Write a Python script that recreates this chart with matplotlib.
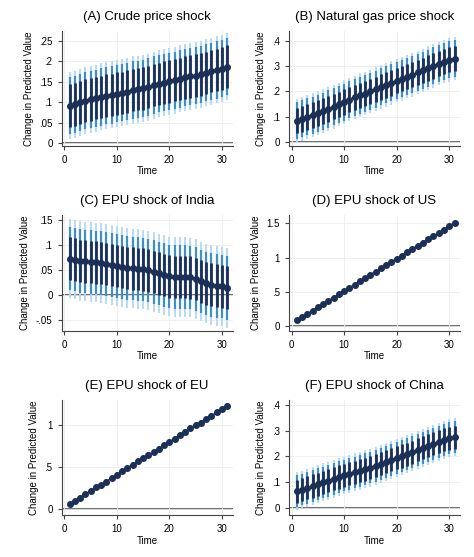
import numpy as np
import matplotlib
matplotlib.use("Agg")
from matplotlib import pyplot as plt

plt.rcParams['font.family'] = ['Liberation Sans', 'DejaVu Sans']

time = list(range(1, 32))

titles = ["(A) Crude price shock", "(B) Natural gas price shock",
          "(C) EPU shock of India", "(D) EPU shock of US",
          "(E) EPU shock of EU", "(F) EPU shock of China"]

crude = [0.092, 0.095, 0.100, 0.104, 0.107, 0.110, 0.113, 0.116, 0.118, 0.121, 0.123,
         0.126, 0.130, 0.132, 0.134, 0.137, 0.142, 0.145, 0.148, 0.151, 0.154, 0.157,
         0.161, 0.163, 0.165, 0.168, 0.172, 0.176, 0.179, 0.182, 0.187]
gas = [0.085, 0.092, 0.100, 0.107, 0.115, 0.123, 0.131, 0.140, 0.149, 0.158, 0.168,
       0.177, 0.185, 0.192, 0.200, 0.209, 0.218, 0.226, 0.234, 0.243, 0.250, 0.259,
       0.266, 0.275, 0.283, 0.292, 0.301, 0.310, 0.318, 0.325, 0.330]
india = [0.073, 0.071, 0.068, 0.067, 0.066, 0.065, 0.064, 0.062, 0.060, 0.058, 0.056,
         0.054, 0.053, 0.052, 0.051, 0.049, 0.046, 0.043, 0.040, 0.037, 0.036, 0.036,
         0.036, 0.035, 0.032, 0.027, 0.023, 0.020, 0.018, 0.017, 0.014]
us = [0.08, 0.13, 0.18, 0.22, 0.27, 0.32, 0.37, 0.41, 0.46, 0.51, 0.56, 0.60, 0.65,
      0.70, 0.75, 0.79, 0.84, 0.89, 0.94, 0.98, 1.03, 1.08, 1.13, 1.17, 1.22, 1.27,
      1.32, 1.36, 1.41, 1.46, 1.51]
eu = [0.06, 0.10, 0.14, 0.18, 0.22, 0.26, 0.29, 0.33, 0.37, 0.41, 0.45, 0.49, 0.53,
      0.57, 0.61, 0.65, 0.68, 0.72, 0.76, 0.80, 0.84, 0.88, 0.92, 0.96, 1.00, 1.03,
      1.07, 1.11, 1.15, 1.19, 1.23]
china = [0.063, 0.070, 0.077, 0.084, 0.091, 0.098, 0.105, 0.112, 0.119, 0.125, 0.131,
         0.137, 0.143, 0.149, 0.156, 0.163, 0.170, 0.178, 0.186, 0.194, 0.201, 0.208,
         0.216, 0.225, 0.233, 0.241, 0.249, 0.256, 0.264, 0.270, 0.274]
series = [crude, gas, india, us, eu, china]

# half widths of the three confidence bands (inner, middle, outer)
half_widths = [[0.052, 0.070, 0.082], [0.050, 0.073, 0.086], [0.043, 0.064, 0.080],
               [0.018, 0.028, 0.036], [0.018, 0.028, 0.036], [0.045, 0.062, 0.074]]

yticks = [[0, 0.05, 0.1, 0.15, 0.2, 0.25], [0, 0.1, 0.2, 0.3, 0.4],
          [-0.05, 0, 0.05, 0.1, 0.15], [0, 0.5, 1, 1.5], [0, 0.5, 1], [0, 0.1, 0.2, 0.3, 0.4]]
yticklabels = [["0", ".05", ".1", ".15", ".2", ".25"], ["0", ".1", ".2", ".3", ".4"],
               ["-.05", "0", ".05", ".1", ".15"], ["0", ".5", "1", "1.5"],
               ["0", ".5", "1"], ["0", ".1", ".2", ".3", ".4"]]
ylims = [(-0.007, 0.275), (-0.015, 0.44), (-0.072, 0.16), (-0.07, 1.62), (-0.07, 1.3), (-0.03, 0.42)]

dark = "#1b2f57"
mid = "#3d8fc6"
light = "#b3d9f2"

fig, axes = plt.subplots(3, 2, figsize=(4.74, 5.57), dpi=100)
for ax, title, y, hw, yt, ytl, yl in zip(axes.flat, titles, series, half_widths, yticks, yticklabels, ylims):
    y = np.array(y)
    ax.vlines(time, y - hw[2], y + hw[2], color=light, lw=1.3)
    ax.vlines(time, y - hw[1], y + hw[1], color=mid, lw=1.6)
    ax.vlines(time, y - hw[0], y + hw[0], color=dark, lw=2.0)
    ax.plot(time, y, color=dark, lw=1.2, marker="o", ms=4)
    ax.axhline(0, color="#555555", lw=1.2, zorder=0)
    ax.set_title(title, fontsize=9.5, pad=8)
    ax.set_xlim(-0.5, 32)
    ax.set_xticks([0, 10, 20, 30])
    ax.set_ylim(*yl)
    ax.set_yticks(yt)
    ax.set_yticklabels(ytl)
    ax.grid(color="#ececec", lw=0.6)
    ax.set_axisbelow(True)
    ax.set_xlabel("Time", fontsize=7, labelpad=1)
    ax.set_ylabel("Change in Predicted Value", fontsize=7)
    ax.tick_params(labelsize=7, length=3, color="#444444")
    for s in ["top", "right"]:
        ax.spines[s].set_visible(False)
    for s in ["left", "bottom"]:
        ax.spines[s].set_color("#444444")
        ax.spines[s].set_linewidth(0.8)

fig.subplots_adjust(left=0.13, right=0.97, top=0.945, bottom=0.075, hspace=0.6, wspace=0.33)
fig.savefig("out.png", dpi=100)
